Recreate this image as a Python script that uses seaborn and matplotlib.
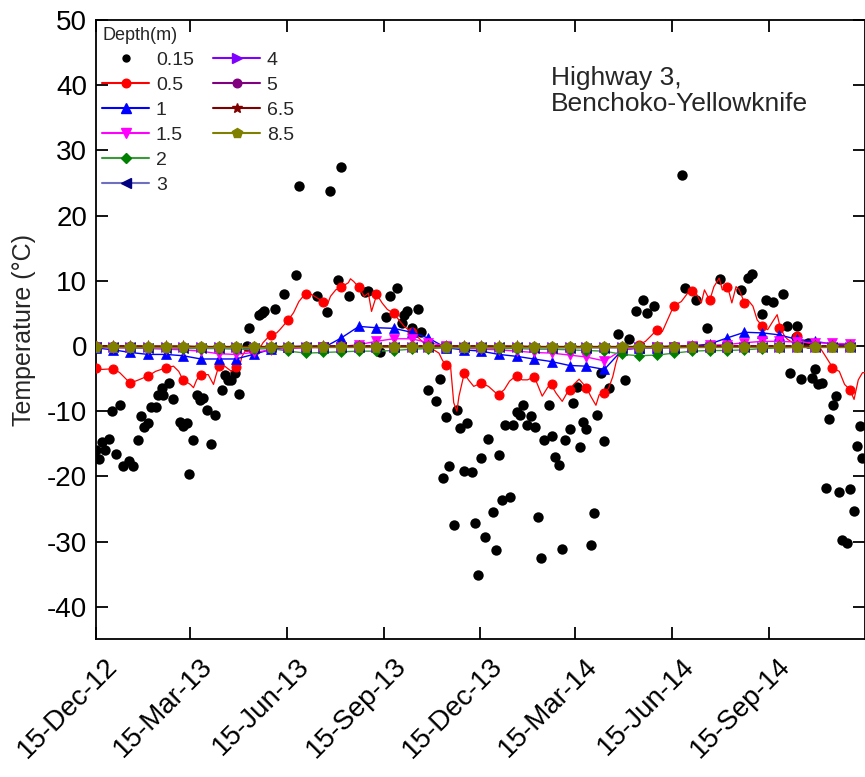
import numpy as np
import pandas as pd
import matplotlib
matplotlib.use("Agg")
import matplotlib.pyplot as plt
from matplotlib.lines import Line2D
from matplotlib.transforms import ScaledTranslation
import seaborn as sns

START = "2012-12-15"
END_DAY = 730

# ---- 0.15 m : sparse readings (day offset from START, temperature) ----
d015_days = [0, 3, 6, 9, 13, 16, 19, 23, 26, 32, 36, 40, 43, 46, 50, 53, 57, 59, 63, 64,
             70, 74, 80, 83, 87, 89, 93, 96, 99, 102, 106, 110, 113, 120, 123, 126, 129, 132, 136, 144,
             146, 155, 158, 160, 170, 179, 190, 193, 210, 220, 223, 230, 233, 241, 256, 259, 270, 276, 280, 286,
             291, 293, 296, 300, 306, 309, 316, 323, 327, 330, 333, 336, 340, 343, 346, 350, 353, 357, 360, 363,
             366, 370, 373, 377, 380, 383, 386, 389, 393, 396, 400, 403, 406, 410, 413, 417, 420, 423, 426, 430,
             433, 436, 440, 443, 446, 450, 453, 457, 460, 463, 466, 470, 473, 476, 480, 483, 487, 496, 503, 506,
             513, 520, 523, 530, 557, 560, 570, 580, 593, 613, 619, 623, 633, 636, 643, 653, 656, 659, 665, 666,
             670, 676, 680, 683, 686, 690, 693, 696, 700, 703, 706, 709, 713, 716, 720, 723, 726, 728]
d015_temp = [-15.9, -17.4, -14.8, -16.0, -14.3, -10.0, -16.5, -9.0, -18.4, -17.7, -18.4, -14.4, -10.8, -12.5, -11.8, -9.3, -9.3, -7.6, -6.4, -7.5,
             -5.7, -8.1, -11.6, -12.3, -11.8, -19.7, -14.4, -7.6, -8.3, -8.0, -9.9, -15.1, -10.6, -6.8, -4.4, -5.2, -5.2, -4.1, -7.4, 0.0,
             2.8, 4.8, 5.1, 5.3, 5.7, 8.0, 10.9, 24.6, 7.6, 5.2, 23.7, 10.1, 27.5, 7.6, 8.2, 8.5, -1.0, 4.4, 7.6, 8.9,
             3.5, 4.8, 5.4, 2.8, 5.7, 2.1, -6.8, -8.5, -5.0, -20.3, -10.9, -18.4, -27.5, -9.9, -12.6, -19.2, -11.8, -19.4, -27.2, -35.2,
             -17.2, -29.3, -14.2, -25.4, -31.3, -16.8, -23.7, -12.1, -23.2, -12.1, -10.1, -10.6, -9.1, -12.1, -10.8, -12.4, -26.2, -32.6, -14.5, -9.1,
             -13.8, -17.0, -18.3, -31.1, -14.4, -12.8, -8.7, -6.3, -15.5, -11.7, -12.8, -30.5, -25.7, -10.6, -4.2, -14.6, -6.5, 1.9, -5.2, 1.1,
             5.4, 7.1, 5.1, 6.2, 26.2, 8.9, 7.1, 2.7, 10.3, 8.6, 10.4, 11.0, 4.9, 7.0, 6.7, 8.0, 3.0, -4.1, 1.3, 3.0,
             -5.0, 0.5, -4.9, -3.5, -5.8, -5.7, -21.8, -11.2, -9.1, -7.7, -22.4, -29.8, -30.3, -21.9, -25.3, -15.3, -12.3, -17.2]

# ---- 0.5 m : continuous trace ----
d05_days = [0, 6, 17, 23, 31, 33, 41, 50, 57, 66, 74, 79, 83, 90, 93, 96, 100, 107, 112, 114,
            117, 121, 125, 129, 133, 136, 139, 142, 148, 155, 159, 166, 172, 175, 183, 188, 193, 199, 205, 210,
            216, 220, 223, 228, 234, 240, 242, 245, 250, 255, 259, 262, 267, 272, 277, 282, 288, 293, 300, 305,
            310, 315, 321, 326, 329, 332, 337, 340, 343, 345, 350, 354, 359, 366, 373, 382, 388, 393, 399, 405,
            410, 416, 419, 424, 429, 432, 437, 443, 449, 454, 459, 466, 470, 475, 478, 483, 487, 491, 494, 497,
            500, 510, 516, 522, 527, 533, 538, 543, 549, 556, 562, 566, 570, 575, 578, 583, 587, 592, 595, 600,
            604, 608, 611, 616, 619, 624, 628, 633, 638, 643, 647, 650, 654, 657, 662, 666, 671, 681, 687, 693,
            700, 706, 711, 716, 720, 724, 728, 730]
d05_temp = [-3.4, -3.6, -3.5, -4.1, -5.4, -5.7, -5.2, -4.6, -3.9, -3.4, -3.1, -3.9, -5.2, -5.9, -6.4, -5.2, -4.4, -4.4, -5.9, -4.7,
            -3.1, -2.9, -3.4, -3.9, -3.2, -3.6, -1.6, -0.8, -0.7, -0.6, 0.5, 1.7, 2.0, 2.5, 4.0, 5.1, 6.8, 8.0, 7.9, 7.4,
            6.8, 6.3, 7.6, 8.6, 9.1, 9.7, 10.3, 9.9, 9.0, 7.6, 8.1, 5.3, 7.9, 6.6, 5.6, 5.1, 4.0, 3.0, 2.1, 1.5,
            0.7, -0.1, -0.6, -1.1, -2.1, -2.9, -3.1, -8.7, -10.0, -7.7, -4.2, -5.2, -6.2, -5.7, -6.2, -7.5, -6.7, -5.4, -4.6, -5.2,
            -5.2, -4.8, -5.7, -7.7, -6.4, -5.8, -7.2, -8.5, -6.8, -5.9, -5.1, -6.4, -7.7, -9.1, -7.5, -7.2, -6.5, -4.7, -2.6, -1.1,
            -0.3, -0.3, 0.2, 0.7, 1.5, 2.5, 2.2, 4.0, 6.2, 6.8, 8.1, 8.5, 8.1, 6.6, 8.6, 7.0, 9.1, 10.4, 8.6, 9.1,
            6.6, 9.1, 8.6, 6.6, 7.1, 6.1, 4.0, 3.0, 2.5, 3.8, 4.8, 2.8, 1.5, 1.0, 0.5, 1.5, 0.7, 0.2, -0.1, -1.6,
            -3.4, -3.9, -5.9, -6.7, -8.2, -5.2, -4.1, -4.1]

# ---- marker sample days (shared by the plotted symbols) ----
mark_days = [0, 17, 33, 50, 67, 83, 100, 117, 133, 150, 167, 183, 200, 216, 233, 250, 266, 283, 300, 316,
             333, 350, 366, 383, 400, 416, 433, 450, 466, 483, 500, 516, 533, 549, 566, 583, 599, 616, 633, 649,
             666, 683, 699, 716]
d05_mark = [-3.4, -3.5, -5.7, -4.6, -3.4, -5.2, -4.4, -3.1, -3.2, -0.7, 1.7, 4.0, 8.0, 6.8, 9.1, 9.0, 7.9, 5.1, 2.1, -0.1,
            -2.9, -4.2, -5.7, -7.5, -4.6, -4.8, -5.8, -6.8, -6.4, -7.2, -0.3, 0.2, 2.5, 6.2, 8.5, 7.0, 9.1, 6.6, 3.0, 2.8,
            1.5, -0.1, -3.4, -6.7]
d1 = [-0.3, -0.6, -1.0, -1.3, -1.3, -1.5, -2.0, -2.0, -2.0, -1.3, -0.5, -0.2, -0.1, -0.3, 1.2, 3.0, 2.8, 2.7, 2.1, 1.2,
      -0.3, -0.6, -0.8, -1.3, -1.6, -2.0, -2.4, -3.0, -3.1, -3.6, -0.6, -0.3, -0.3, -0.2, 0.0, 0.3, 1.2, 2.1, 2.0, 1.7,
      1.0, 0.7, 0.3, 0.2]
d15 = [-0.2, -0.3, -0.3, -0.4, -0.5, -0.6, -0.8, -1.2, -1.3, -1.0, -0.6, -0.4, -0.3, -0.2, -0.1, 0.2, 0.7, 1.1, 1.1, 0.5,
       0.0, -0.3, -0.5, -0.6, -0.8, -1.0, -1.1, -1.4, -1.7, -2.3, -0.6, -0.3, -0.2, -0.1, 0.0, 0.1, 0.2, 0.5, 0.7, 0.7,
       0.6, 0.5, 0.4, 0.3]
d2 = [-0.2, -0.2, -0.3, -0.3, -0.3, -0.4, -0.4, -0.4, -0.5, -0.5, -0.4, -0.8, -1.1, -1.0, -0.9, -0.8, -0.8, -0.7, -0.5, -0.4,
      -0.3, -0.3, -0.3, -0.4, -0.4, -0.5, -0.5, -0.6, -0.7, -0.8, -1.3, -1.5, -1.4, -1.1, -0.8, -0.7, -0.7, -0.6, -0.4, -0.3,
      -0.2, -0.2, -0.2, -0.2]
d3 = [-0.2, -0.2, -0.2, -0.3, -0.3, -0.3, -0.3, -0.3, -0.3, -0.3, -0.2, -0.2, -0.2, -0.2, -0.2, -0.1, -0.1, -0.1, -0.1, -0.1,
      -0.1, -0.2, -0.2, -0.2, -0.2, -0.3, -0.3, -0.3, -0.3, -0.3, -0.3, -0.3, -0.3, -0.3, -0.2, -0.2, -0.2, -0.2, -0.1, -0.1,
      -0.1, -0.1, -0.1, -0.1]
d4 = [-0.1, -0.1, -0.1, -0.1, -0.2, -0.2, -0.2, -0.2, -0.2, -0.2, -0.1, -0.1, -0.1, -0.1, -0.1, -0.1, -0.1, -0.1, -0.1, -0.1,
      -0.1, -0.1, -0.1, -0.1, -0.2, -0.2, -0.2, -0.2, -0.2, -0.2, -0.2, -0.2, -0.1, -0.1, -0.1, -0.1, -0.1, -0.1, -0.1, -0.1,
      -0.1, -0.1, -0.1, -0.1]
d5 = [0.0, 0.0, 0.0, -0.1, -0.1, -0.1, -0.1, -0.1, -0.1, -0.1, -0.1, -0.1, 0.0, 0.0, 0.0, 0.0, 0.0, 0.0, 0.0, 0.0,
      0.0, 0.0, 0.0, -0.1, -0.1, -0.1, -0.1, -0.1, -0.1, -0.1, -0.1, -0.1, -0.1, 0.0, 0.0, 0.0, 0.0, 0.0, 0.0, 0.0,
      0.0, 0.0, 0.0, 0.0]
d65 = [0.0, 0.0, 0.0, 0.0, 0.0, 0.0, -0.1, -0.1, -0.1, -0.1, -0.1, -0.1, -0.1, 0.0, 0.0, 0.0, 0.0, 0.0, 0.0, 0.0,
       0.0, 0.0, 0.0, 0.0, 0.0, -0.1, -0.1, -0.1, -0.1, -0.1, -0.1, -0.1, -0.1, -0.1, 0.0, 0.0, 0.0, 0.0, 0.0, 0.0,
       0.0, 0.0, 0.0, 0.0]
d85 = [-0.1, -0.1, -0.1, -0.1, -0.1, -0.1, -0.1, -0.1, -0.1, -0.1, -0.1, -0.1, -0.1, -0.1, -0.1, -0.1, -0.1, -0.1, -0.1, -0.1,
       -0.1, -0.1, -0.1, -0.1, -0.1, -0.1, -0.1, -0.1, -0.1, -0.1, -0.1, -0.1, -0.1, -0.1, -0.1, -0.1, -0.1, -0.1, -0.1, -0.1,
       -0.1, -0.1, -0.1, -0.1]

depth_labels = ["0.15", "0.5", "1", "1.5", "2", "3", "4", "5", "6.5", "8.5"]
tick_dates = ["2012-12-15", "2013-03-15", "2013-06-15", "2013-09-15",
              "2013-12-15", "2014-03-15", "2014-06-15", "2014-09-15"]
tick_labels = ["15-Dec-12", "15-Mar-13", "15-Jun-13", "15-Sep-13",
               "15-Dec-13", "15-Mar-14", "15-Jun-14", "15-Sep-14"]

# ---- styles ----
line_col = {"0.5": "#ff0000", "1": "#0000ff", "1.5": "#ff00ff", "2": "#3a9a3a",
            "3": "#6f6fbf", "4": "#8000ff", "5": "#800080", "6.5": "#800000", "8.5": "#808000"}
mark_col = {"0.15": "#000000", "0.5": "#ff0000", "1": "#0000ff", "1.5": "#ff00ff", "2": "#008000",
            "3": "#000080", "4": "#8000ff", "5": "#800080", "6.5": "#800000", "8.5": "#808000"}
mark_sym = {"0.15": "o", "0.5": "o", "1": "^", "1.5": "v", "2": "D", "3": "<", "4": ">",
            "5": "o", "6.5": "*", "8.5": "p"}
mark_size = {"0.15": 7.5, "0.5": 6.5, "1": 7, "1.5": 7, "2": 5.5, "3": 7, "4": 7,
             "5": 6.5, "6.5": 8, "8.5": 8.5}

sns.set_theme(style="ticks")
plt.rcParams["font.family"] = ["Liberation Sans", "DejaVu Sans"]
plt.rcParams["axes.linewidth"] = 1.3
plt.rcParams["axes.unicode_minus"] = False

W, H = 865, 777
fig = plt.figure(figsize=(W / 100, H / 100), dpi=100)
ax_l, ax_r, ax_t, ax_b = 95.5, 864.6, 20.0, 639.3
ax = fig.add_axes([ax_l / W, 1 - ax_b / H, (ax_r - ax_l) / W, (ax_b - ax_t) / H])

base = pd.Timestamp(START)


def to_dates(days):
    return base + pd.to_timedelta(np.asarray(days, dtype=float), unit="D")


# 0.15 m
sns.scatterplot(x=to_dates(d015_days), y=d015_temp, color="black", s=56,
                linewidth=0, ax=ax, legend=False, zorder=3)
# 0.5 m trace and its symbols
sns.lineplot(x=to_dates(d05_days), y=d05_temp, color=line_col["0.5"], linewidth=0.9,
             estimator=None, sort=False, ax=ax, legend=False, zorder=4)
sns.lineplot(x=to_dates(mark_days), y=d05_mark, color=mark_col["0.5"], linestyle="",
             marker="o", markersize=mark_size["0.5"], markeredgecolor=mark_col["0.5"],
             markerfacecolor=mark_col["0.5"], estimator=None, sort=False, ax=ax,
             legend=False, zorder=4)

deep = {"1": d1, "1.5": d15, "2": d2, "3": d3, "4": d4, "5": d5, "6.5": d65, "8.5": d85}
z = 5
for lab, vals in deep.items():
    sns.lineplot(x=to_dates(mark_days), y=vals, color=line_col[lab], linewidth=1.0,
                 marker=mark_sym[lab], markersize=mark_size[lab],
                 markeredgecolor=mark_col[lab], markerfacecolor=mark_col[lab],
                 markeredgewidth=0.5, estimator=None, sort=False, ax=ax,
                 legend=False, zorder=z)
    z += 1

# axes
ax.set_xlim(base, base + pd.Timedelta(days=END_DAY))
ax.set_ylim(-45, 50)
ax.set_yticks(np.arange(-40, 51, 10))
ax.set_xticks(pd.to_datetime(tick_dates))
ax.set_xticklabels(tick_labels)
ax.tick_params(axis="both", which="major", direction="in", length=8.5, width=1.3,
               top=True, right=True, labelsize=20, colors="black")
ax.tick_params(axis="x", pad=10)
ax.tick_params(axis="y", pad=6)
for sp in ax.spines.values():
    sp.set_visible(True)
    sp.set_color("black")
    sp.set_linewidth(1.3)
ax.set_xlabel("")
ax.set_ylabel("Temperature (\u00b0C)", fontsize=18, labelpad=8)

offset = ScaledTranslation(9 / 100, 0, fig.dpi_scale_trans)
for t in ax.get_xticklabels():
    t.set_rotation(45)
    t.set_ha("right")
    t.set_va("top")
    t.set_rotation_mode("anchor")
    t.set_transform(t.get_transform() + offset)

# legend
handles = [Line2D([], [], linestyle="", marker="o", markersize=5, color="black")]
for lab in depth_labels[1:]:
    handles.append(Line2D([], [], color=line_col[lab], linewidth=1.5, marker=mark_sym[lab],
                          markersize=min(mark_size[lab], 7.5) * 0.95, markerfacecolor=mark_col[lab],
                          markeredgecolor=mark_col[lab]))
labels = list(depth_labels)
handles += [Line2D([], [], linestyle="", marker=""), Line2D([], [], linestyle="", marker="")]
labels += ["", ""]
leg = ax.legend(handles, labels, ncol=2, loc="upper left", bbox_to_anchor=(0.0, 1.0),
                frameon=False, title="Depth(m)", fontsize=14, title_fontsize=13,
                handlelength=2.4, handletextpad=0.35, columnspacing=1.0,
                labelspacing=0.38, borderaxespad=0.15, borderpad=0.2, alignment="left")

ax.text(0.592, 0.925, "Highway 3,\nBenchoko-Yellowknife", transform=ax.transAxes,
        ha="left", va="top", fontsize=19, linespacing=1.1)

fig.savefig("out.png", dpi=100, facecolor="white")
